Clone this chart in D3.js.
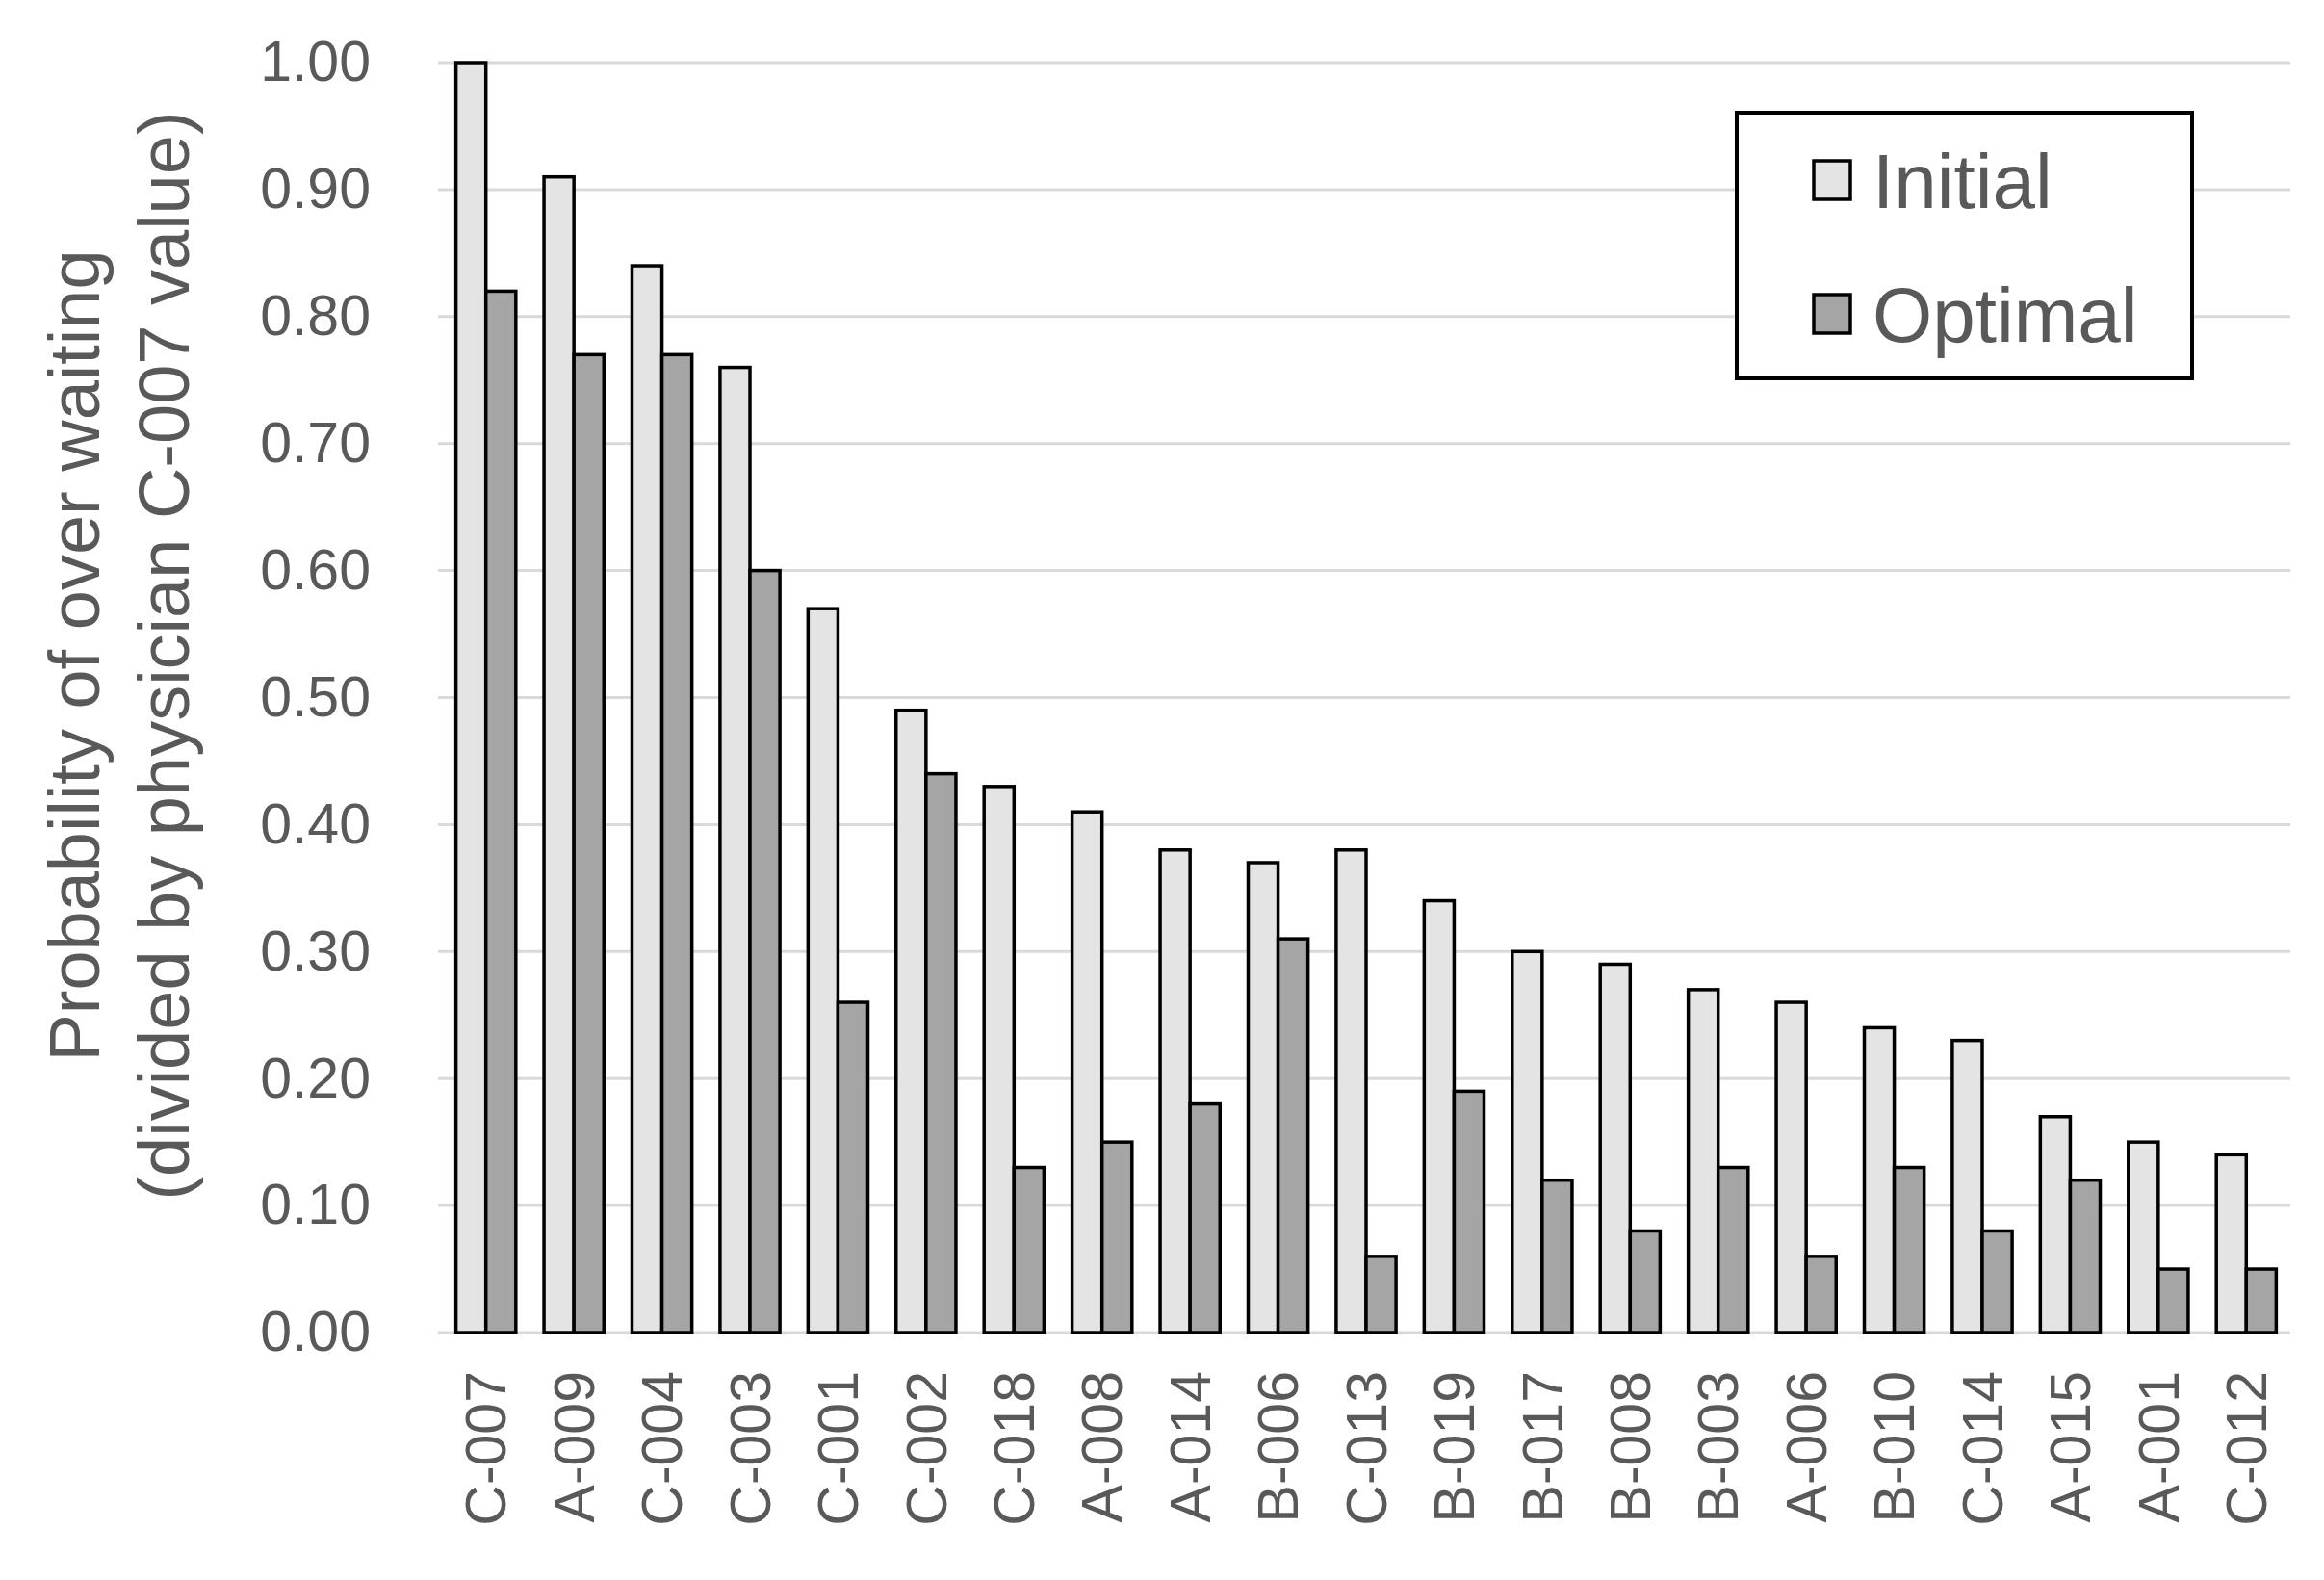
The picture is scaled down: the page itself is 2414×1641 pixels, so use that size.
<!DOCTYPE html>
<html>
<head>
<meta charset="utf-8">
<script src="https://cdn.jsdelivr.net/npm/d3@7"></script>
<style>
  body { margin: 0; background: #fff; }
  svg { display: block; font-family: "Liberation Sans", Arial, sans-serif; }
</style>
</head>
<body>
<svg width="2414" height="1641"></svg>
<script>
// physicians, sorted by initial value
var physicians = ["C-007", "A-009", "C-004", "C-003", "C-001", "C-002", "C-018", "A-008", "A-014", "B-006",
                  "C-013", "B-019", "B-017", "B-008", "B-003", "A-006", "B-010", "C-014", "A-015", "A-001", "C-012"];
var initialVals = [1.00, 0.91, 0.84, 0.76, 0.57, 0.49, 0.43, 0.41, 0.38, 0.37,
                   0.38, 0.34, 0.30, 0.29, 0.27, 0.26, 0.24, 0.23, 0.17, 0.15, 0.14];
var optimalVals = [0.82, 0.77, 0.77, 0.60, 0.26, 0.44, 0.13, 0.15, 0.18, 0.31,
                   0.06, 0.19, 0.12, 0.08, 0.13, 0.06, 0.13, 0.08, 0.12, 0.05, 0.05];
var seriesNames = ["Initial", "Optimal"];
var seriesFill = ["#e4e4e4", "#a5a5a5"];
var yTicks = [0, 0.1, 0.2, 0.3, 0.4, 0.5, 0.6, 0.7, 0.8, 0.9, 1.0];

var svg = d3.select("svg"),
    plotLeft = 459, plotRight = 2379, plotTop = 65, plotBottom = 1384;

var x = d3.scaleBand().domain(physicians).range([plotLeft, plotRight]).paddingInner(0.32).paddingOuter(0.16);
var xs = d3.scaleBand().domain(seriesNames).range([0, x.bandwidth()]);
var y = d3.scaleLinear().domain([0, 1]).range([plotBottom, plotTop]);

// grid lines
svg.append("g")
  .selectAll("line")
  .data(yTicks)
  .enter().append("line")
    .attr("x1", plotLeft - 4).attr("x2", plotRight)
    .attr("y1", function(d) { return y(d); })
    .attr("y2", function(d) { return y(d); })
    .attr("stroke", "#d9d9d9")
    .attr("stroke-width", 3);

// y axis labels
var yAxis = svg.append("g")
    .attr("transform", "translate(" + plotLeft + ",0)")
    .call(d3.axisLeft(y).tickValues(yTicks).tickFormat(d3.format(".2f")).tickSize(0).tickPadding(74));
yAxis.select(".domain").remove();
yAxis.selectAll("text")
    .attr("fill", "#595959")
    .style("font-size", "59px")
    .style("font-family", "'Liberation Sans', Arial, sans-serif");

// x axis labels
var xAxis = svg.append("g")
    .attr("transform", "translate(0," + plotBottom + ")")
    .call(d3.axisBottom(x).tickSize(0).tickPadding(0));
xAxis.select(".domain").remove();
xAxis.selectAll("text")
    .attr("fill", "#595959")
    .style("font-size", "59px")
    .style("font-family", "'Liberation Sans', Arial, sans-serif")
    .attr("text-anchor", "end")
    .attr("transform", "rotate(-90)")
    .attr("x", -40)
    .attr("y", 0)
    .attr("dy", "0.35em");

// bars
var rows = physicians.map(function(p, i) {
  return {name: p, vals: [initialVals[i], optimalVals[i]]};
});

var groups = svg.append("g")
  .selectAll("g")
  .data(rows)
  .enter().append("g")
    .attr("transform", function(d) { return "translate(" + x(d.name) + ",0)"; });

groups.selectAll("rect")
  .data(function(d) { return d.vals.map(function(v, k) { return {key: seriesNames[k], k: k, v: v}; }); })
  .enter().append("rect")
    .attr("x", function(d) { return xs(d.key); })
    .attr("width", xs.bandwidth())
    .attr("y", function(d) { return y(d.v); })
    .attr("height", function(d) { return y(0) - y(d.v); })
    .attr("fill", function(d) { return seriesFill[d.k]; })
    .attr("stroke", "#000")
    .attr("stroke-width", 3.5);

// y axis title
var title = svg.append("text")
    .attr("transform", "translate(123,681) rotate(-90)")
    .attr("text-anchor", "middle")
    .attr("fill", "#595959")
    .style("font-size", "74px");
title.append("tspan").attr("x", 0).attr("dy", "-0.27em").text("Probability of over waiting");
title.append("tspan").attr("x", 0).attr("dy", "1.25em").text("(divided by physician C-007 value)");

// legend
var legend = svg.append("g");
legend.append("rect")
    .attr("x", 1804).attr("y", 117)
    .attr("width", 473).attr("height", 276)
    .attr("fill", "#fff")
    .attr("stroke", "#000")
    .attr("stroke-width", 4);

var items = legend.selectAll("g.item")
  .data(seriesNames)
  .enter().append("g")
    .attr("class", "item")
    .attr("transform", function(d, i) { return "translate(1884," + (187 + i * 139) + ")"; });

items.append("rect")
    .attr("x", 0).attr("y", -20)
    .attr("width", 38).attr("height", 40)
    .attr("fill", function(d, i) { return seriesFill[i]; })
    .attr("stroke", "#000")
    .attr("stroke-width", 3.5);

items.append("text")
    .attr("x", 61).attr("y", 0)
    .attr("dy", "0.36em")
    .attr("fill", "#595959")
    .style("font-size", "80px")
    .text(function(d) { return d; });
</script>
</body>
</html>
